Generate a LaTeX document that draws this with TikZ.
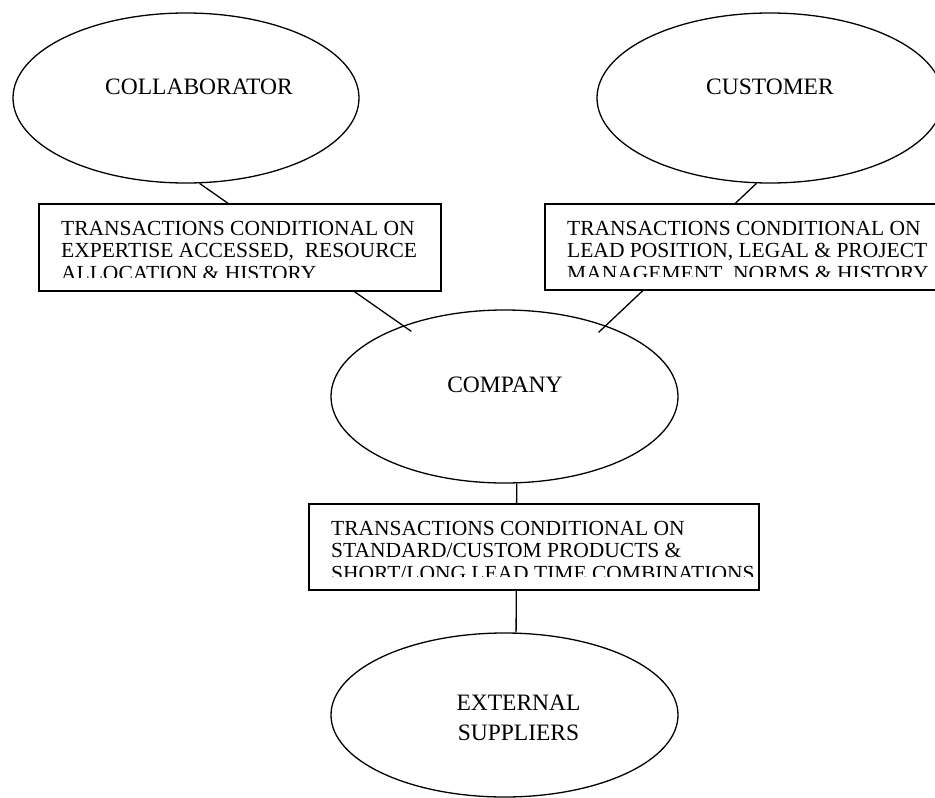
\documentclass[tikz,border=0pt]{standalone}
\usepackage{fontspec}
\setmainfont{Liberation Serif}
\usetikzlibrary{shapes.geometric}

\begin{document}
\begin{tikzpicture}[x=1pt, y=-1pt,
        party/.style={ellipse, draw=black, line width=1.3pt, inner sep=0pt},
        partytext/.style={font=\fontsize{23.5}{30}\selectfont, inner sep=0pt, align=center},
        condbox/.style={rectangle, draw=black, fill=white, line width=1.3pt, inner sep=0pt, minimum height=86pt},
        condline/.style={font=\fontsize{21.5}{22}\selectfont, inner sep=0pt, anchor=base west},
        link/.style={line width=1.3pt}
    ]
        \useasboundingbox (0,0) rectangle (935,798);

        % Parties
        \node[party, minimum width=346pt, minimum height=170pt] (collab) at (186,98) {};
        \node[party, minimum width=346pt, minimum height=170pt] (cust) at (770,98) {};
        \node[party, minimum width=347pt, minimum height=173pt] (company) at (504.5,396.5) {};
        \node[party, minimum width=347pt, minimum height=164pt] (ext) at (504.5,715) {};
        \node[partytext, anchor=base] (collabname) at (199,94) {COLLABORATOR};
        \node[partytext, anchor=base] (custname) at (770,94) {CUSTOMER};
        \node[partytext, anchor=base] (companyname) at (505,392) {COMPANY};
        \node[partytext] (extname) at (518.5,718) {EXTERNAL\\SUPPLIERS};

        % Connections (boxes go on top of them)
        \draw[link, shorten >=-10pt] (collab.-81) -- (company);
        \draw[link, shorten >=-10pt] (cust.-99) -- (company.35);
        \draw[link] (company.-82) -- (ext.82);

        % Transaction boxes
        \node[condbox, minimum width=402pt, minimum height=87pt] (collabbox) at (240,247.5) {};
        \node[condbox, minimum width=402pt] (custbox) at (746,247) {};
        \node[condbox, minimum width=450pt] (supbox) at (534,547) {};

        \begin{scope}
            \clip (collabbox.north west) rectangle ([yshift=14pt]collabbox.south east);
            \foreach \lbl [count=\i] in {TRANSACTIONS CONDITIONAL ON, {EXPERTISE ACCESSED,\ \ RESOURCE}, ALLOCATION \& HISTORY}
                \node[condline] (collabline\i) at (61,212.5+22.5*\i) {\lbl};
        \end{scope}
        \begin{scope}
            \clip (custbox.north west) rectangle ([yshift=14pt]custbox.south east);
            \foreach \lbl [count=\i] in {TRANSACTIONS CONDITIONAL ON, {LEAD POSITION, LEGAL \& PROJECT}, {MANAGEMENT\ \ NORMS \& HISTORY}}
                \node[condline] (custline\i) at (567,212.5+22.5*\i) {\lbl};
        \end{scope}
        \begin{scope}
            \clip (supbox.north west) rectangle ([yshift=14pt]supbox.south east);
            \foreach \lbl [count=\i] in {TRANSACTIONS CONDITIONAL ON, STANDARD/CUSTOM PRODUCTS \&, SHORT/LONG LEAD TIME COMBINATIONS}
                \node[condline] (supline\i) at (331,512.5+22.5*\i) {\lbl};
        \end{scope}

    \end{tikzpicture}
\end{document}
